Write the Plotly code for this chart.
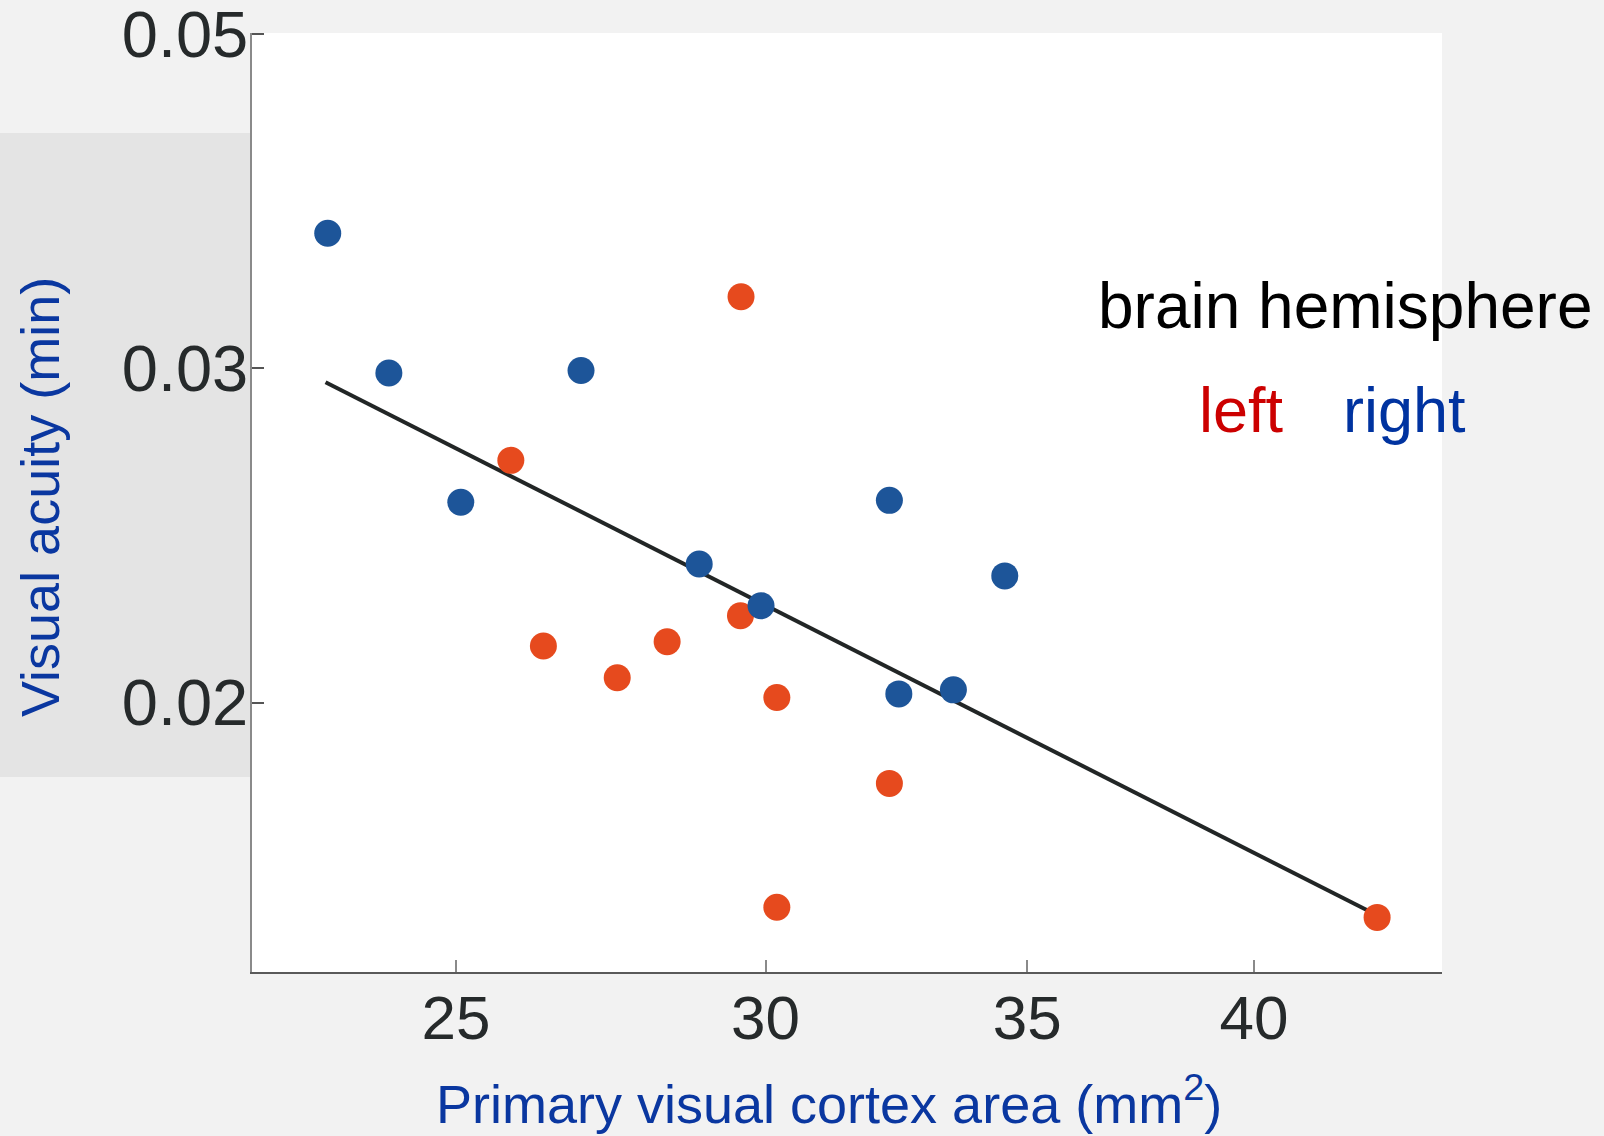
import plotly.graph_objects as go

# ---- data ----
right_area = [23.18, 24.03, 26.91, 25.07, 28.85, 29.92, 32.45, 33.51, 32.27, 34.54]
right_acuity = [0.03534, 0.02983, 0.02992, 0.02550, 0.02366, 0.02249, 0.02021, 0.02031, 0.02556, 0.02332]

left_area = [29.57, 25.82, 29.56, 26.32, 28.31, 27.49, 30.20, 32.27, 30.20, 43.01]
left_acuity = [0.03272, 0.02683, 0.02222, 0.02142, 0.02153, 0.02061, 0.02012, 0.01813, 0.01560, 0.01541]

fit_area = [23.15, 43.01]
fit_acuity = [0.02950, 0.01545]

x_tick_vals = [25, 30, 35, 40]
x_tick_text = ["25", "30", "35", "40"]
y_tick_vals = [0.02, 0.03, 0.045]
y_tick_text = ["0.02", "0.03", "0.05"]

# ---- figure ----
W, H = 1604, 1136
L, R, T, B = 252, 1442, 33, 972


def px(x):
    return (x - L) / (R - L)


def py(y):
    return (B - y) / (B - T)


FONT = "Liberation Sans, Arial, sans-serif"
BLUE_DOT = "#1d5599"
RED_DOT = "#e64a1e"
TITLE_BLUE = "#0a37a0"

fig = go.Figure()
fig.add_trace(go.Scatter(x=fit_area, y=fit_acuity, mode="lines",
                         line=dict(color="#222626", width=4), showlegend=False))
fig.add_trace(go.Scatter(x=left_area, y=left_acuity, mode="markers",
                         marker=dict(color=RED_DOT, size=27, line=dict(width=0)),
                         showlegend=False))
fig.add_trace(go.Scatter(x=right_area, y=right_acuity, mode="markers",
                         marker=dict(color=BLUE_DOT, size=27, line=dict(width=0)),
                         showlegend=False))

fig.update_layout(
    width=W, height=H,
    margin=dict(l=L, r=W - R, t=T, b=H - B, pad=0, autoexpand=False),
    paper_bgcolor="#f2f2f2",
    plot_bgcolor="#ffffff",
    font=dict(family=FONT, color="#262a2b"),
    xaxis=dict(type="log", range=[1.34574, 1.65017], automargin=False,
               tickvals=x_tick_vals, ticktext=x_tick_text,
               ticks="inside", ticklen=12, tickwidth=1.5, tickcolor="#8a8a8a",
               showline=True, linecolor="#5a5a5a", linewidth=1.5,
               showgrid=False, zeroline=False,
               tickfont=dict(size=62, color="#262a2b", family=FONT),
               ticklabelstandoff=-9, ticklabeloverflow="allow"),
    yaxis=dict(type="log", range=[-1.84097, -1.3462], automargin=False,
               tickvals=y_tick_vals, ticktext=y_tick_text,
               ticks="inside", ticklen=12, tickwidth=1.5, tickcolor="#555555",
               showline=True, linecolor="#8a8a8a", linewidth=1.5,
               showgrid=False, zeroline=False,
               tickfont=dict(size=65, color="#262a2b", family=FONT),
               ticklabelstandoff=-11, ticklabeloverflow="allow"),
    shapes=[dict(type="rect", xref="paper", yref="paper",
                 x0=px(0), x1=px(L), y0=py(777), y1=py(133),
                 fillcolor="#e4e4e4", line=dict(width=0), layer="below")],
    annotations=[
        dict(text="Primary visual cortex area (mm<sup>2</sup>)", xref="paper", yref="paper",
             x=px(434), y=py(1100), xanchor="left", yanchor="middle", showarrow=False,
             font=dict(size=54, color=TITLE_BLUE, family=FONT)),
        dict(text="Visual acuity (min)", xref="paper", yref="paper",
             x=px(40), y=py(497), xanchor="center", yanchor="middle", showarrow=False,
             textangle=-90, font=dict(size=54, color=TITLE_BLUE, family=FONT)),
        dict(text="brain hemisphere", xref="paper", yref="paper",
             x=px(1345), y=py(306), xanchor="center", yanchor="middle", showarrow=False,
             font=dict(size=64, color="#000000", family=FONT)),
        dict(text="left", xref="paper", yref="paper",
             x=px(1241), y=py(410), xanchor="center", yanchor="middle", showarrow=False,
             font=dict(size=63, color="#cc0000", family=FONT)),
        dict(text="right", xref="paper", yref="paper",
             x=px(1404), y=py(410), xanchor="center", yanchor="middle", showarrow=False,
             font=dict(size=63, color="#0033a0", family=FONT)),
    ],
)

fig.write_html("out.html", config={"displayModeBar": False},
               post_script="document.body.style.margin='0';document.body.style.overflow='hidden';")
